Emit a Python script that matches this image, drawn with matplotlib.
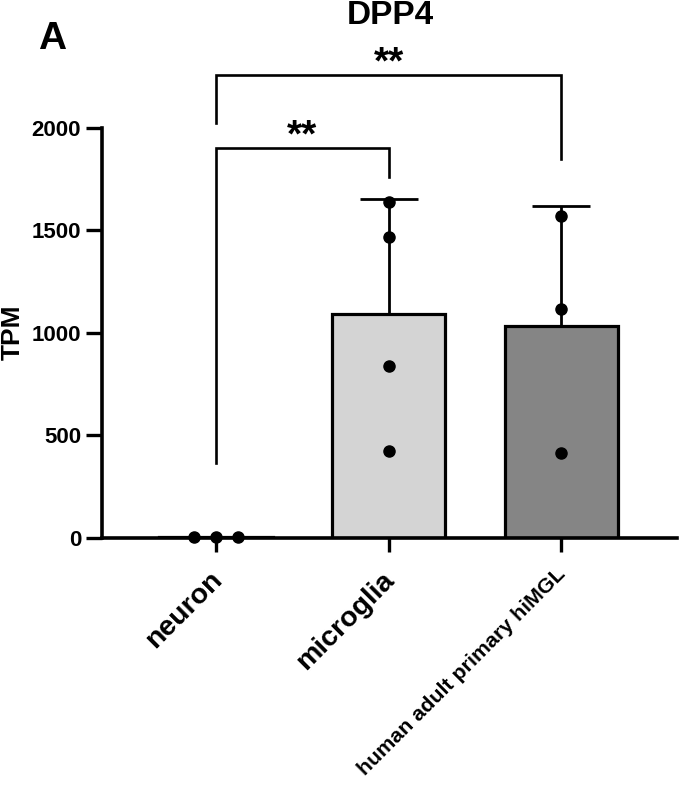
import matplotlib
matplotlib.use("Agg")
import matplotlib.pyplot as plt
import matplotlib.transforms as mtransforms
import numpy as np

plt.rcParams['font.family'] = ['Liberation Sans', 'DejaVu Sans']
plt.rcParams['font.weight'] = 'bold'

# data (TPM)
groups = ['neuron', 'microglia', 'human adult primary hiMGL']
neuron = [1.5, 2.5, 2.0]
microglia = [1639, 1468, 838, 423]
himgl = [1571, 1116, 413]
samples = [neuron, microglia, himgl]
bar_colors = ['white', '#d4d4d4', '#858585']
yticks = [0, 500, 1000, 1500, 2000]

W, H = 679, 788
fig = plt.figure(figsize=(W / 100, H / 100), dpi=100)
ax = fig.add_axes([102 / W, 1 - 537.5 / H, 575 / W, 409.5 / H])

x = np.arange(len(groups))
means = [np.mean(s) for s in samples]
sds = [np.std(s, ddof=1) for s in samples]

ax.bar(x, means, width=0.655, color=bar_colors, edgecolor='black',
       linewidth=2.3, zorder=2)
ax.errorbar(x, means, yerr=[np.zeros(3), sds], fmt='none', ecolor='black',
            elinewidth=2.0, capsize=21, capthick=2.0, zorder=3)

# individual points
offsets = [[-0.13, 0.0, 0.13], [0, 0, 0, 0], [0, 0, 0]]
for i, s in enumerate(samples):
    ax.plot(x[i] + np.array(offsets[i]), s, 'o', color='black', ms=8,
            zorder=4, clip_on=False)

ax.set_xlim(-0.66, 2.67)
ax.set_ylim(0, 2000)
ax.set_yticks(yticks)
ax.set_yticklabels([str(v) for v in yticks], fontsize=16, fontweight='bold')
ax.set_ylabel('TPM', fontsize=19, fontweight='bold')
ax.yaxis.label.set_va('center')
ax.yaxis.set_label_coords((13 - 102) / 575, (537.5 - 332) / 409.5)

# rotated category labels drawn as text so they can be nudged
ax.set_xticks(x)
ax.set_xticklabels([])
for i, (name, fs, dx, dy) in enumerate(zip(groups, [20.5, 20.5, 15.4],
                                           [-7, -7, -6], [-29.5, -29.5, -27])):
    off = mtransforms.ScaledTranslation(dx / 100, dy / 100,
                                        fig.dpi_scale_trans)
    ax.text(x[i], 0, name, transform=ax.get_xaxis_transform() + off,
            rotation=45, ha='right', va='top', rotation_mode='anchor',
            fontsize=fs, fontweight='bold', clip_on=False)

for side in ['top', 'right']:
    ax.spines[side].set_visible(False)
for side in ['left', 'bottom']:
    ax.spines[side].set_linewidth(2.6)
    ax.spines[side].set_zorder(5)
ax.tick_params(axis='y', length=11.5, width=2.4, pad=3.5)
ax.tick_params(axis='x', length=10, width=2.4)

# significance brackets
lw = 1.9
ax.plot([0, 0, 1, 1], [364, 1903, 1903, 1761], color='black', lw=lw,
        clip_on=False, solid_joinstyle='miter')
ax.text(0.5, 1958, '**', ha='center', va='center', fontsize=28,
        fontweight='bold')
ax.plot([0, 0, 2, 2], [2025, 2259, 2259, 1849], color='black', lw=lw,
        clip_on=False, solid_joinstyle='miter')
ax.text(1.0, 2314, '**', ha='center', va='center', fontsize=28,
        fontweight='bold')

fig.text(390 / W, 1 - 16 / H, 'DPP4', ha='center', va='center',
         fontsize=24, fontweight='bold')
fig.text(52 / W, 1 - 39 / H, 'A', ha='center', va='center',
         fontsize=28, fontweight='bold')

fig.savefig('out.png', dpi=100)
